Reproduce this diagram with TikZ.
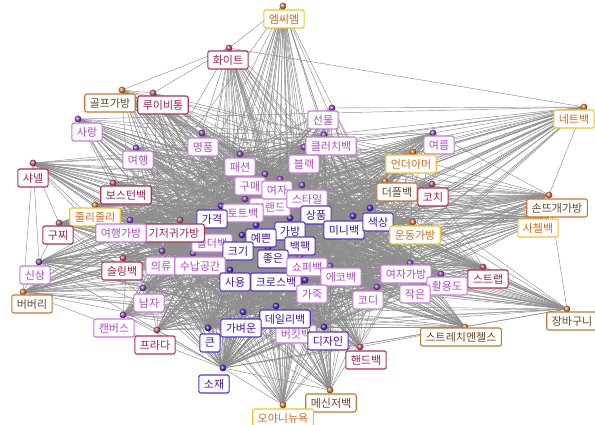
\documentclass[tikz,border=0pt]{standalone}
\usepackage{fontspec}
\setmainfont{Noto Sans CJK KR}[BoldFont={Noto Sans CJK KR Bold}]
\definecolor{yelB}{HTML}{F2C230}
\definecolor{yelT}{HTML}{D2691E}
\definecolor{brnB}{HTML}{C87533}
\definecolor{brnT}{HTML}{6B4423}
\definecolor{crimB}{HTML}{B0305C}
\definecolor{crimT}{HTML}{A01E50}
\definecolor{orchB}{HTML}{C878DC}
\definecolor{orchT}{HTML}{B048C8}
\definecolor{purpB}{HTML}{6030C8}
\definecolor{purpT}{HTML}{4A10A8}
\definecolor{edgeC}{HTML}{8E8E8E}
\definecolor{dotY}{HTML}{E8803A}
\definecolor{dotC}{HTML}{C85878}
\definecolor{dotL}{HTML}{9848C8}
\definecolor{dotP}{HTML}{5828D0}
\tikzset{
  lbl/.style={draw, fill=white, line width=1.1pt, rounded corners=2pt,
    inner xsep=5pt, inner ysep=2pt, minimum height=18pt,
    font=\fontsize{11}{12}\selectfont},
  yel/.style={lbl, draw=yelB, text=yelT},
  brn/.style={lbl, draw=brnB, text=brnT},
  crim/.style={lbl, draw=crimB, text=crimT},
  orch/.style={lbl, draw=orchB, text=orchT},
  purp/.style={lbl, draw=purpB, text=purpT},
  linkline/.style={draw=edgeC, line width=0.45pt},
}
\begin{document}
\begin{tikzpicture}[x=1pt,y=-1pt]
\useasboundingbox[fill=white] (0,0) rectangle (595,425);
% dot coordinates
\foreach \id/\x/\y in {mcm/283/6, white/229/48, golf/122/90, louis/153/93, love/78/119,
  luxury/202/133, gift/332/108, clutch/324/135, net/584/107, summer/433/133,
  travel/136/148, fashion/240/154, black/304/147, under/413/152, chanel/33/163,
  buy/265/174, woman/280/179, style/302/185, boston/113/183, duffle/385/181,
  coach/432/184, brand/270/196, tote/245/199, knit/549/195, julie/95/205,
  price/221/206, product/322/205, diaper/180/220, gucci/59/223, travelbag/130/220,
  bag/290/218, mini/353/216, color/370/208, shoulder/200/240, sports/413/222,
  satchel/545/218, pretty/256/225, size/242/235, backpack/290/240, new/39/262,
  sling/123/258, cloth/162/251, storage/193/253, good/268/248, shopper/300/256,
  eco/330/266, womanbag/410/263, strap/483/267, use/230/270, cross/305/280,
  util/441/274, small/425/283, burberry/23/292, man/143/288, leather/300/284,
  codi/377/287, canvas/123/315, prada/157/330, daily/276/306, light/243/312,
  basket/567/309, big/208/328, bucket/290/322, design/324/327, stretch/465/327,
  handbag/360/347, material/223/368, messenger/330/390, oyani/283/405}
  \coordinate (d-\id) at (\x,\y);
\def\allids{mcm,white,golf,louis,love,luxury,gift,clutch,net,summer,travel,fashion,black,under,chanel,buy,woman,style,boston,duffle,coach,brand,tote,knit,julie,price,product,diaper,gucci,travelbag,bag,mini,color,shoulder,sports,satchel,pretty,size,backpack,new,sling,cloth,storage,good,shopper,eco,womanbag,strap,use,cross,util,small,burberry,man,leather,codi,canvas,prada,daily,light,basket,big,bucket,design,stretch,handbag,material,messenger,oyani}
\def\hubids{price,product,bag,mini,color,pretty,size,backpack,good,use,cross,light,daily,design,big,material,woman,style,brand,tote,buy,fashion,shopper,eco,shoulder,leather,clutch,black,storage,cloth,codi,womanbag,travelbag,bucket}
% connectors
\foreach \a in \allids {\foreach \b in \hubids {\draw[linkline] (d-\a) -- (d-\b);}}
\foreach \a/\b in {golf/white, white/net, love/net, summer/net, chanel/gucci, chanel/new,
  chanel/burberry, gucci/new, new/burberry, julie/chanel, basket/strap, basket/knit,
  stretch/basket, net/knit, knit/satchel, mcm/white, golf/louis, louis/white, gift/net,
  summer/knit, coach/knit, coach/strap, handbag/stretch, prada/canvas, man/canvas}
  \draw[linkline] (d-\a) -- (d-\b);
% dots
\foreach \id/\c in {mcm/dotY, white/dotC, golf/dotY, louis/dotC, love/dotL, luxury/dotL,
  gift/dotL, clutch/dotL, net/dotY, summer/dotL, travel/dotL, fashion/dotL, black/dotL,
  under/dotY, chanel/dotC, buy/dotL, woman/dotL, style/dotL, boston/dotC, duffle/dotY,
  coach/dotC, brand/dotL, tote/dotL, knit/dotY, julie/dotY, price/dotP, product/dotP,
  diaper/dotC, gucci/dotC, travelbag/dotL, bag/dotP, mini/dotP, color/dotP, shoulder/dotL,
  sports/dotY, satchel/dotY, pretty/dotP, size/dotP, backpack/dotP, new/dotL, sling/dotC,
  cloth/dotL, storage/dotL, good/dotP, shopper/dotL, eco/dotL, womanbag/dotL, strap/dotC,
  use/dotP, cross/dotP, util/dotL, small/dotL, burberry/dotY, man/dotL, leather/dotL,
  codi/dotL, canvas/dotL, prada/dotC, daily/dotP, light/dotP, basket/dotY, big/dotP,
  bucket/dotL, design/dotP, stretch/dotY, handbag/dotC, material/dotP, messenger/dotY,
  oyani/dotY}
  \shade[ball color=\c] (d-\id) circle (3.4pt);
% labels
\begin{scope}[every node/.append style={font=\fontsize{11}{12}\selectfont\bfseries}]
\node[yel]  (mcm)       at (284,19)  {엠씨엠};
\node[crim] (white)     at (228,60)  {화이트};
\node[brn]  (golf)      at (110,103) {골프가방};
\node[crim] (louis)     at (163,105) {루이비통};
\node[orch] (love)      at (87,132)  {사랑};
\node[orch] (luxury)    at (203,147) {명품};
\node[orch] (gift)      at (323,120) {선물};
\node[orch] (clutch)    at (331,146) {클러치백};
\node[yel]  (net)       at (574,119) {네트백};
\node[orch] (summer)    at (439,145) {여름};
\node[orch] (travel)    at (138,160) {여행};
\node[orch] (fashion)   at (240,167) {패션};
\node[orch] (black)     at (304,164) {블랙};
\node[yel]  (under)     at (411,164) {언더아머};
\node[crim] (chanel)    at (33,178)  {샤넬};
\node[orch] (brand)     at (270,207) {브랜드};
\node[orch] (buy)       at (250,186) {구매};
\node[orch] (woman)     at (277,190) {여자};
\node[orch] (style)     at (307,199) {스타일};
\node[crim] (boston)    at (126,195) {보스턴백};
\node[brn]  (duffle)    at (397,192) {더플백};
\node[crim] (coach)     at (433,197) {코치};
\node[orch] (tote)      at (243,213) {토트백};
\node[brn]  (knit)      at (557,208) {손뜨개가방};
\node[yel]  (julie)     at (95,217)  {줄리줄리};
\node[orch] (shoulder)  at (212,243) {숄더백};
\node[purp] (price)     at (212,219) {가격};
\node[purp] (product)   at (316,215) {상품};
\node[crim] (diaper)    at (174,233) {기저귀가방};
\node[crim] (gucci)     at (58,235)  {구찌};
\node[orch] (travelbag) at (121,233) {여행가방};
\node[purp] (mini)      at (344,230) {미니백};
\node[purp] (bag)       at (290,231) {가방};
\node[purp] (color)     at (378,222) {색상};
\node[yel]  (sports)    at (415,235) {운동가방};
\node[yel]  (satchel)   at (538,228) {사첼백};
\node[purp] (pretty)    at (261,238) {예쁜};
\node[purp] (size)      at (238,251) {크기};
\node[purp] (backpack)  at (300,246) {백팩};
\node[orch] (new)       at (35,275)  {신상};
\node[crim] (sling)     at (122,271) {슬링백};
\node[orch] (cloth)     at (161,266) {의류};
\node[orch] (storage)   at (200,266) {수납공간};
\node[purp] (good)      at (273,259) {좋은};
\node[purp] (cross)     at (276,282) {크로스백};
\node[orch] (shopper)   at (307,267) {쇼퍼백};
\node[orch] (eco)       at (341,277) {에코백};
\node[orch] (womanbag)  at (406,274) {여자가방};
\node[crim] (strap)     at (488,279) {스트랩};
\node[purp] (use)       at (235,282) {사용};
\node[orch] (util)      at (447,286) {활용도};
\node[orch] (small)     at (415,294) {작은};
\node[brn]  (burberry)  at (32,304)  {버버리};
\node[orch] (man)       at (149,303) {남자};
\node[orch] (leather)   at (312,294) {가죽};
\node[orch] (codi)      at (368,300) {코디};
\node[orch] (canvas)    at (114,328) {캔버스};
\node[crim] (prada)     at (155,345) {프라다};
\node[orch] (bucket)    at (296,334) {버킷백};
\node[purp] (daily)     at (285,319) {데일리백};
\node[purp] (light)     at (241,328) {가벼운};
\node[brn]  (basket)    at (572,321) {장바구니};
\node[purp] (big)       at (210,343) {큰};
\node[purp] (design)    at (328,341) {디자인};
\node[brn]  (stretch)   at (461,337) {스트레치엔젤스};
\node[crim] (handbag)   at (366,360) {핸드백};
\node[purp] (material)  at (214,384) {소재};
\node[brn]  (messenger) at (331,403) {메신저백};
\node[yel]  (oyani)     at (283,418) {오야니뉴욕};
\end{scope}
\end{tikzpicture}
\end{document}
